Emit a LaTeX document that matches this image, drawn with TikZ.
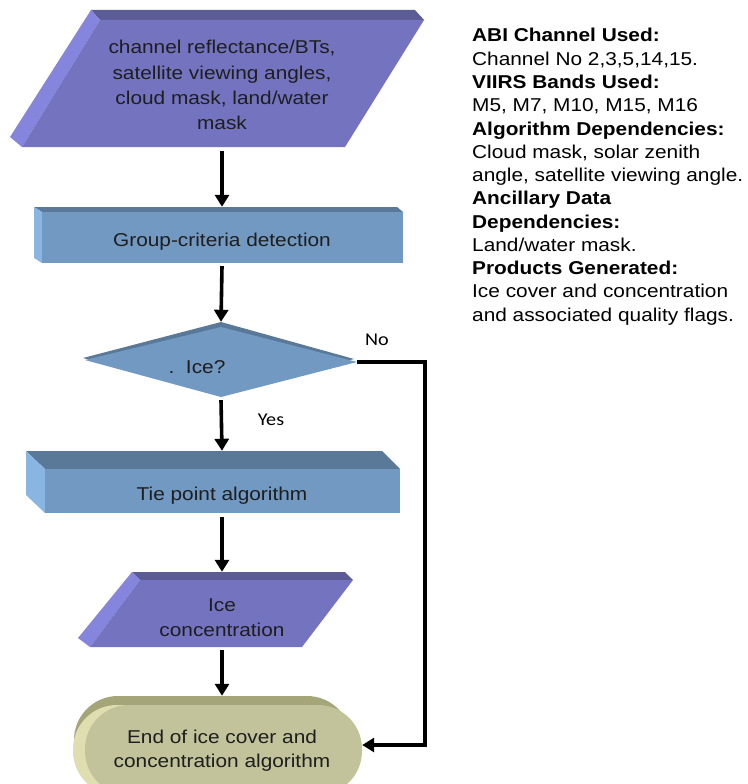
\documentclass[tikz,border=0pt]{standalone}
\usepackage{fontspec}
\setmainfont{Liberation Sans}[FakeStretch=1.12]
\newfontfamily\calib{Carlito}[FakeStretch=1.12]
\usetikzlibrary{arrows.meta}
\definecolor{pface}{HTML}{7373C0}
\definecolor{ptop}{HTML}{5B5B96}
\definecolor{pleft}{HTML}{8585DD}
\definecolor{bface}{HTML}{7299C2}
\definecolor{btop}{HTML}{5A7897}
\definecolor{bleft}{HTML}{88B5E2}
\definecolor{oface}{HTML}{C2C29B}
\definecolor{otop}{HTML}{A5A57A}
\definecolor{oleft}{HTML}{DEDEB1}
\definecolor{ink}{HTML}{1E1E1E}
\begin{document}
\begin{tikzpicture}[x=1pt,y=-1pt,
  flow/.style={line width=3.6pt,-{Triangle[width=14pt,length=12pt]}},
  txt/.style={inner sep=0pt,anchor=base,font=\fontsize{18.6}{23}\selectfont,text=ink},
  side/.style={inner sep=0pt,anchor=base west,font=\fontsize{18.6}{23}\selectfont,text=black},
  lbl/.style={inner sep=0pt,anchor=base,font=\calib\fontsize{18}{22}\selectfont,text=black},
  frame/.style={inner sep=0pt,draw=none}]
\useasboundingbox (0,0) rectangle (747,784);
\clip (0,0) rectangle (747,784);
\fill[white] (0,0) rectangle (747,784);

% input parallelogram
\fill[ptop] (91,10) -- (415,10) -- (424,20) -- (100,20) -- cycle;
\fill[pleft] (91,10) -- (100,20) -- (22,147) -- (10,137) -- cycle;
\fill[pface] (100,20) -- (424,20) -- (345,147) -- (22,147) -- cycle;
\node[frame,minimum width=300pt,minimum height=127pt] (fin) at (222,84) {};
\node[txt] (t1a) at (222,54) {channel reflectance/BTs,};
\node[txt] (t1b) at (222,80) {satellite viewing angles,};
\node[txt] (t1c) at (222,104) {cloud mask, land/water};
\node[txt] (t1d) at (222,129) {mask};

% group-criteria box
\fill[btop] (34,207) -- (397,207) -- (403,212) -- (42,212) -- cycle;
\fill[bleft] (34,207) -- (42,212) -- (42,263) -- (34,258) -- cycle;
\fill[bface] (42,212) rectangle (403,263);
\node[frame,minimum width=362pt,minimum height=56pt] (fgrp) at (222,235) {};
\node[txt] (t2) at (222,246) {Group-criteria detection};

% decision diamond
\fill[btop] (221,322) -- (354,359) -- (221,395) -- (83,358) -- cycle;
\fill[bface] (221,327) -- (357,362) -- (221,397) -- (85,360) -- cycle;
\node[frame,minimum width=272pt,minimum height=78pt] (fdec) at (221,361) {};
\node[txt] (t3) at (197,373) {.\ \ Ice?};

% tie point box
\fill[btop] (26,451) -- (382,451) -- (400,469) -- (45,469) -- cycle;
\fill[bleft] (26,451) -- (45,469) -- (45,513) -- (26,495) -- cycle;
\fill[bface] (45,469) rectangle (400,513);
\node[frame,minimum width=374pt,minimum height=62pt] (ftie) at (222,482) {};
\node[txt] (t4) at (222,500) {Tie point algorithm};

% ice concentration parallelogram
\fill[ptop] (132,572) -- (345,572) -- (353,580) -- (140,580) -- cycle;
\fill[pleft] (132,572) -- (140,580) -- (90,647) -- (78,638) -- cycle;
\fill[pface] (140,580) -- (353,580) -- (302,647) -- (90,647) -- cycle;
\node[frame,minimum width=200pt,minimum height=75pt] (fice) at (222,609.5) {};
\node[txt] (t5a) at (222,611) {Ice};
\node[txt] (t5b) at (222,636) {concentration};

% terminal
\fill[otop,rounded corners=44pt] (74,696) rectangle (351,786);
\begin{scope}
\clip (60,705) rectangle (140,800);
\fill[oleft,rounded corners=44pt] (73,705) rectangle (350,795);
\end{scope}
\fill[oface,rounded corners=44pt] (85,705) rectangle (362,795);
\node[frame,minimum width=288pt,minimum height=90pt] (fend) at (218,741) {};
\node[txt] (t6a) at (222,743) {End of ice cover and};
\node[txt] (t6b) at (222,767) {concentration algorithm};

% connectors
\draw[flow] ([yshift=-3pt]fin.south) -- (fgrp.north);
\draw[flow] ([yshift=-3pt]fgrp.south) -- (fdec.north);
\draw[flow] (fdec.south) -- (ftie.north);
\draw[flow] ([yshift=-4pt]ftie.south) -- (fice.north);
\draw[flow] ([yshift=-3pt]fice.south) -- (fice.south |- fend.north);
\draw[flow] ([yshift=-1pt]fdec.east) -- ++(68,0) |- ([yshift=-4pt]fend.east);
\node[lbl] (no) at (377,345) {No};
\node[lbl] (yes) at (271,425) {Yes};

% side text
\node[side] (r1) at (472,42) {\bfseries ABI Channel Used:};
\node[side] (r2) at (472,65.25) {Channel No 2,3,5,14,15.};
\node[side] (r3) at (472,88.5) {\bfseries VIIRS Bands Used:};
\node[side] (r4) at (472,111.75) {M5, M7, M10, M15, M16};
\node[side] (r5) at (472,135) {\bfseries Algorithm Dependencies:};
\node[side] (r6) at (472,158.25) {Cloud mask, solar zenith};
\node[side] (r7) at (472,181.5) {angle, satellite viewing angle.};
\node[side] (r8) at (472,204.75) {\bfseries Ancillary Data};
\node[side] (r9) at (472,228) {\bfseries Dependencies:};
\node[side] (r10) at (472,251.25) {Land/water mask.};
\node[side] (r11) at (472,274.5) {\bfseries Products Generated:};
\node[side] (r12) at (472,297.75) {Ice cover and concentration};
\node[side] (r13) at (472,321) {and associated quality flags.};
\end{tikzpicture}
\end{document}
